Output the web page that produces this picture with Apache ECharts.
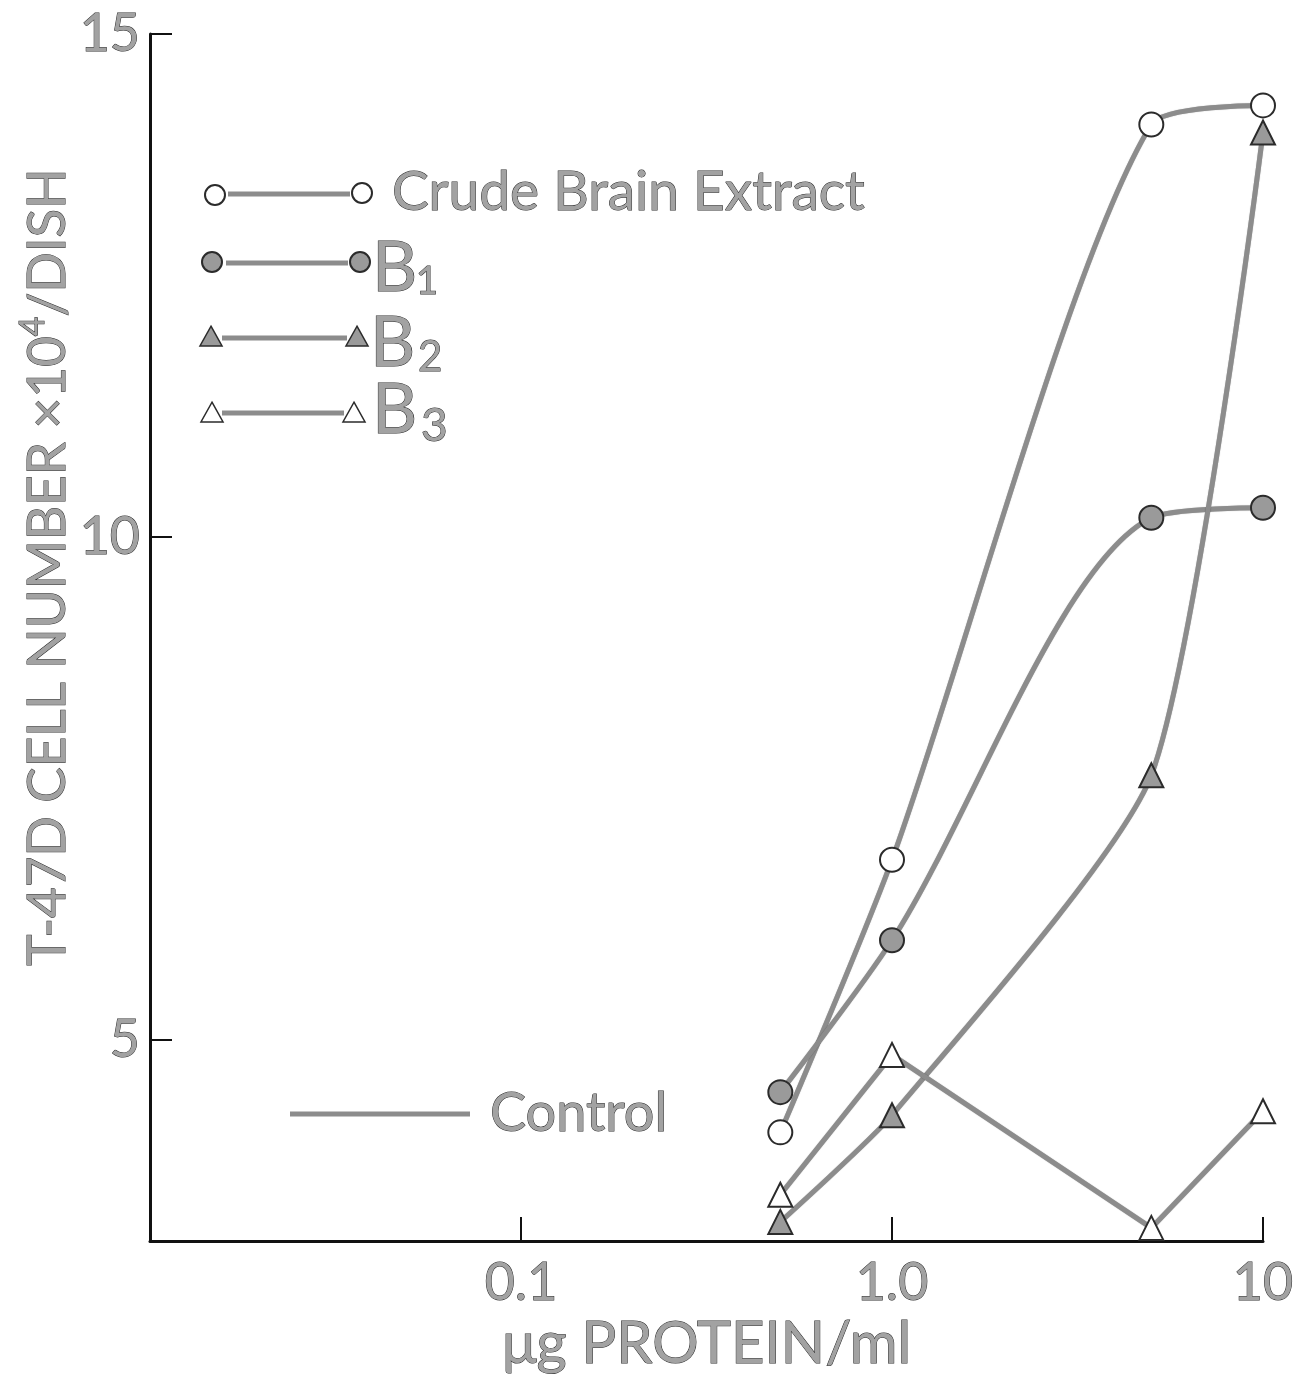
<!DOCTYPE html>
<html>
<head>
<meta charset="utf-8">
<script src="https://cdn.jsdelivr.net/npm/echarts@6/dist/echarts.min.js"></script>
<style>
html,body{margin:0;padding:0;background:#fff;overflow:hidden;}
#chart{width:1299px;height:1375px;}
</style>
</head>
<body>
<div id="chart"></div>
<script>
// ---- data ----
const doses = [0.5, 1, 5, 10];                 // µg protein / ml
const crudeBrain = [4.08, 6.79, 14.10, 14.29];  // open circles
const fractionB1 = [4.48, 5.99, 10.19, 10.29];  // filled circles
const fractionB2 = [3.19, 4.25, 7.63, 14.02];   // filled triangles
const fractionB3 = [3.46, 4.85, 3.13, 4.29];    // open triangles
const xTickValues = [0.1, 1, 10];
const xTickLabels = ['0.1', '1.0', '10'];
const yTickValues = [5, 10, 15];
const yTickLabels = ['5', '10', '15'];

const FONT = 'Lato';
const TXT = '#a2a2a2';
const TXT_EDGE = '#2a2a2a';
const LINE = '#8c8c8c';
const DARK = '#2b2b2b';

function pairs(ys){ return doses.map((d,i)=>[d, ys[i]]); }

function mkSeries(name, ys, symbol, filled, smooth){
  return {
    name, type:'line', data: pairs(ys), smooth: smooth,
    symbol: symbol, symbolSize: 24,
    showSymbol: true,
    lineStyle: {color: LINE, width: 5, shadowColor:'rgba(0,0,0,0.35)', shadowBlur:1},
    itemStyle: {color: filled ? '#9a9a9a' : '#ffffff', borderColor: DARK, borderWidth: 2, opacity:1},
    emphasis: {disabled: true},
    z: 3
  };
}

const el = document.getElementById('chart');
const chart = echarts.init(el, null, {renderer:'canvas', width:1299, height:1375});

function labelFor(list, labels, v){
  for (let i=0;i<list.length;i++){ if (Math.abs(Math.log10(v) - Math.log10(list[i])) < 1e-6) return labels[i]; }
  return '';
}

const tri = (cx, cy, s) => [[cx, cy - s*0.62],[cx + s*0.58, cy + s*0.42],[cx - s*0.58, cy + s*0.42]];

const txtStyle = (fs) => ({fill: TXT, stroke: TXT_EDGE, lineWidth: 1, fontFamily: FONT, fontSize: fs});

const graphic = [
  {type:'line', shape:{x1:228,y1:194,x2:350,y2:194}, style:{stroke:LINE, lineWidth:5}},
  {type:'circle', shape:{cx:215,cy:195,r:10}, style:{fill:'#fff', stroke:DARK, lineWidth:2}},
  {type:'circle', shape:{cx:362,cy:193,r:10}, style:{fill:'#fff', stroke:DARK, lineWidth:2}},
  {type:'text', x:392, y:192, style:Object.assign(txtStyle(55), {text:'Crude Brain Extract', verticalAlign:'middle'})},
  {type:'line', shape:{x1:226,y1:263,x2:348,y2:263}, style:{stroke:LINE, lineWidth:5}},
  {type:'circle', shape:{cx:212,cy:262,r:10}, style:{fill:'#9a9a9a', stroke:DARK, lineWidth:2}},
  {type:'circle', shape:{cx:360,cy:262,r:10}, style:{fill:'#9a9a9a', stroke:DARK, lineWidth:2}},
  {type:'text', x:372, y:268, style:Object.assign(txtStyle(70), {text:'B', verticalAlign:'middle'})},
  {type:'text', x:416, y:282, style:Object.assign(txtStyle(38), {text:'1', verticalAlign:'middle'})},
  {type:'line', shape:{x1:222,y1:338,x2:347,y2:338}, style:{stroke:LINE, lineWidth:5}},
  {type:'polygon', shape:{points:tri(211,338,19)}, style:{fill:'#9a9a9a', stroke:DARK, lineWidth:1.5}},
  {type:'polygon', shape:{points:tri(357,338,19)}, style:{fill:'#9a9a9a', stroke:DARK, lineWidth:1.5}},
  {type:'text', x:370, y:343, style:Object.assign(txtStyle(70), {text:'B', verticalAlign:'middle'})},
  {type:'text', x:418, y:357, style:Object.assign(txtStyle(42), {text:'2', verticalAlign:'middle'})},
  {type:'line', shape:{x1:222,y1:413,x2:344,y2:413}, style:{stroke:LINE, lineWidth:5}},
  {type:'polygon', shape:{points:tri(212,414,19)}, style:{fill:'#fff', stroke:DARK, lineWidth:1.5}},
  {type:'polygon', shape:{points:tri(354,414,19)}, style:{fill:'#fff', stroke:DARK, lineWidth:1.5}},
  {type:'text', x:372, y:410, style:Object.assign(txtStyle(70), {text:'B', verticalAlign:'middle'})},
  {type:'text', x:421, y:426, style:Object.assign(txtStyle(46), {text:'3', verticalAlign:'middle'})},
  {type:'line', shape:{x1:290,y1:1114,x2:470,y2:1114}, style:{stroke:LINE, lineWidth:5}},
  {type:'text', x:490, y:1114, style:Object.assign(txtStyle(54), {text:'Control', verticalAlign:'middle'})},
  {type:'text', x:45, y:567, rotation:Math.PI/2,
   style:{text:'{n|T-47D CELL NUMBER ×10}{s|4}{n|/DISH}', align:'center', verticalAlign:'middle',
     rich:{
       n:{fontFamily:FONT, fontSize:53, fill:TXT, stroke:TXT_EDGE, lineWidth:1, lineHeight:58, verticalAlign:'bottom'},
       s:{fontFamily:FONT, fontSize:34, fill:TXT, stroke:TXT_EDGE, lineWidth:1, lineHeight:58, verticalAlign:'top', padding:[0,0,22,0]}
     }}}
];

const option = {
  backgroundColor:'#ffffff',
  animation:false,
  grid:{left:150, right:36, top:34, bottom:134, containLabel:false, outerBoundsMode:'none'},
  xAxis:{
    type:'log', logBase:10, min:0.01, max:10,
    name:'μg PROTEIN/ml', nameLocation:'middle', nameGap:63,
    nameTextStyle:{fontFamily:FONT, fontSize:58, color:TXT, textBorderColor:TXT_EDGE, textBorderWidth:1},
    axisLine:{show:true, onZero:false, lineStyle:{color:'#111', width:3}},
    axisTick:{show:true, inside:true, length:24, customValues:xTickValues, lineStyle:{color:'#111', width:2}},
    axisLabel:{show:true, margin:16, customValues:xTickValues,
      formatter:(v)=>labelFor(xTickValues, xTickLabels, v),
      fontFamily:FONT, fontSize:52, color:TXT, textBorderColor:TXT_EDGE, textBorderWidth:1},
    splitLine:{show:false}, minorTick:{show:false}, minorSplitLine:{show:false}
  },
  yAxis:{
    type:'value', min:3, max:15,
    axisLine:{show:true, onZero:false, lineStyle:{color:'#111', width:3}},
    axisTick:{show:true, inside:true, length:22, customValues:yTickValues, lineStyle:{color:'#111', width:2}},
    axisLabel:{show:true, margin:10, customValues:yTickValues,
      formatter:(v)=>{const i=yTickValues.indexOf(v); return i>=0?yTickLabels[i]:'';},
      fontFamily:FONT, fontSize:52, color:TXT, textBorderColor:TXT_EDGE, textBorderWidth:1},
    splitLine:{show:false}
  },
  series:[
    mkSeries('Crude Brain Extract', crudeBrain, 'circle', false, 0.25),
    mkSeries('B1', fractionB1, 'circle', true, 0.3),
    mkSeries('B2', fractionB2, 'triangle', true, 0.2),
    mkSeries('B3', fractionB3, 'triangle', false, false)
  ],
  graphic: graphic
};
chart.setOption(option);
</script>
</body>
</html>
